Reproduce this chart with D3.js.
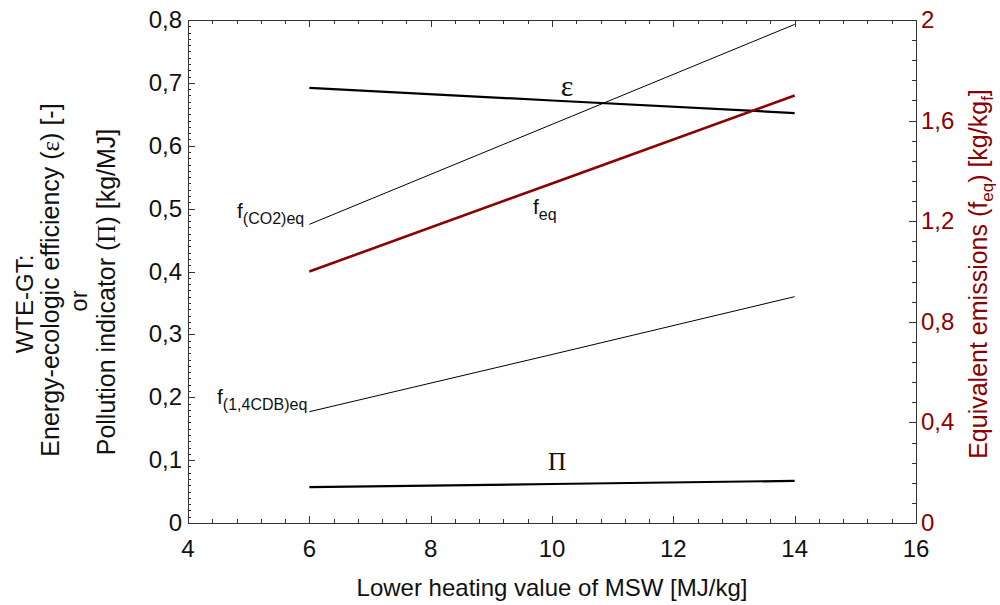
<!DOCTYPE html>
<html>
<head>
<meta charset="utf-8">
<script src="https://cdn.jsdelivr.net/npm/d3@7"></script>
<style>
  html, body { margin: 0; padding: 0; background: #fff; }
  svg { display: block; font-family: "Liberation Sans", Arial, sans-serif; }
</style>
</head>
<body>
<svg id="chart" width="1000" height="605"></svg>
<script>
// Lower heating value of MSW [MJ/kg]
const lhv = [6, 10, 14];
// Left-axis series
const epsilon = [0.692, 0.672, 0.652];      // energy-ecologic efficiency [-]
const fCO2eq = [0.475, 0.634, 0.793];       // [kg/MJ]
const fCDBeq = [0.177, 0.268, 0.360];       // [kg/MJ]
const pollutionPi = [0.057, 0.062, 0.067];  // [kg/MJ]
// Right-axis series
const feq = [1.00, 1.35, 1.70];             // [kg/kg_f]

const xTicks = [4, 6, 8, 10, 12, 14, 16];
const yLeftTicks = [0, 0.1, 0.2, 0.3, 0.4, 0.5, 0.6, 0.7, 0.8];
const yRightTicks = [0, 0.4, 0.8, 1.2, 1.6, 2];

const RED = "#8b0000";
const svg = d3.select("#chart");
const L = 188, R = 916, T = 20, B = 523;

const x = d3.scaleLinear().domain([4, 16]).range([L, R]);
const yL = d3.scaleLinear().domain([0, 0.8]).range([B, T]);
const yR = d3.scaleLinear().domain([0, 2]).range([B, T]);

const comma = v => String(+v.toFixed(2)).replace(".", ",");

// inward ticks drawn as short lines
function ticks(vals, pos, len, orient) {
  const g = svg.append("g").attr("stroke", "#333").attr("stroke-width", 1);
  vals.forEach(v => {
    const p = Math.round(pos(v)) + 0.5;
    if (orient === "bottom") g.append("line").attr("x1", p).attr("x2", p).attr("y1", B).attr("y2", B - len);
    if (orient === "top") g.append("line").attr("x1", p).attr("x2", p).attr("y1", T).attr("y2", T + len);
    if (orient === "left") g.append("line").attr("y1", p).attr("y2", p).attr("x1", L).attr("x2", L + len);
    if (orient === "right") g.append("line").attr("y1", p).attr("y2", p).attr("x1", R).attr("x2", R - len);
  });
}

const xMinor = d3.range(0, 31).map(i => 4 + i * 0.4);
const yLMinor = d3.range(0, 81).map(i => i * 0.01);
const yRMinor = d3.range(0, 26).map(i => i * 0.08);

ticks(xMinor, x, 4, "bottom");
ticks(xTicks, x, 7, "bottom");
ticks(xMinor, x, 4, "top");
ticks(xTicks, x, 7, "top");
ticks(yLMinor, yL, 3, "left");
ticks(yLeftTicks, yL, 7, "left");
ticks(yRMinor, yR, 4, "right");
ticks(yRightTicks, yR, 7, "right");

// frame
svg.append("rect").attr("x", L + 0.5).attr("y", T + 0.5)
  .attr("width", R - L).attr("height", B - T)
  .attr("fill", "none").attr("stroke", "#333").attr("stroke-width", 1);

// tick labels
svg.append("g").selectAll("text").data(xTicks).join("text")
  .attr("x", d => x(d)).attr("y", 557).attr("text-anchor", "middle")
  .attr("font-size", 24).attr("fill", "#111").text(d => d);
svg.append("g").selectAll("text").data(yLeftTicks).join("text")
  .attr("x", 182).attr("y", d => yL(d) + 8).attr("text-anchor", "end")
  .attr("font-size", 24).attr("fill", "#111").text(d => comma(d));
svg.append("g").selectAll("text").data(yRightTicks).join("text")
  .attr("x", 921).attr("y", d => yR(d) + 8).attr("text-anchor", "start")
  .attr("font-size", 24).attr("fill", RED).text(d => comma(d));

// axis titles
svg.append("text").attr("x", (L + R) / 2).attr("y", 596).attr("text-anchor", "middle")
  .attr("font-size", 24).attr("fill", "#111").text("Lower heating value of MSW [MJ/kg]");

const yt = svg.append("g").attr("fill", "#111");
function rotText(g, xPos, yPos, anchor, size) {
  return g.append("text").attr("transform", `translate(${xPos},${yPos}) rotate(-90)`)
    .attr("text-anchor", anchor).attr("font-size", size);
}
rotText(yt, 33, 304, "middle", 24).text("WTE-GT:");
const e = rotText(yt, 59, 280, "middle", 25);
e.append("tspan").text("Energy-ecologic efficiency (");
e.append("tspan").attr("font-family", "Liberation Serif, serif").text("ε");
e.append("tspan").text(") [-]");
rotText(yt, 87, 301, "middle", 24).text("or");
const p = rotText(yt, 115, 292, "middle", 25);
p.append("tspan").text("Pollution indicator (");
p.append("tspan").attr("font-family", "Liberation Serif, serif").text("Π");
p.append("tspan").text(") [kg/MJ]");

const rt = rotText(svg.append("g").attr("fill", RED), 987, 274, "middle", 25);
rt.append("tspan").text("Equivalent emissions (f");
rt.append("tspan").attr("font-size", 17).attr("dy", 6).text("eq");
rt.append("tspan").attr("dy", -6).text(") [kg/kg");
rt.append("tspan").attr("font-size", 17).attr("dy", 6).text("f");
rt.append("tspan").attr("dy", -6).text("]");

// series lines
const lineL = d3.line().x((d, i) => x(lhv[i])).y(d => yL(d));
const lineR = d3.line().x((d, i) => x(lhv[i])).y(d => yR(d));
const plot = svg.append("g").attr("fill", "none");
plot.append("path").attr("d", lineL(fCO2eq)).attr("stroke", "#000").attr("stroke-width", 1);
plot.append("path").attr("d", lineL(fCDBeq)).attr("stroke", "#000").attr("stroke-width", 1);
plot.append("path").attr("d", lineL(epsilon)).attr("stroke", "#000").attr("stroke-width", 2.2);
plot.append("path").attr("d", lineL(pollutionPi)).attr("stroke", "#000").attr("stroke-width", 2.2);
plot.append("path").attr("d", lineR(feq)).attr("stroke", RED).attr("stroke-width", 2.6);

// series labels
const lab = svg.append("g").attr("fill", "#111");
function subLabel(xPos, yPos, sub) {
  const t = lab.append("text").attr("x", xPos).attr("y", yPos).attr("font-size", 21);
  t.append("tspan").text("f");
  t.append("tspan").attr("font-size", 16).attr("dy", 6).text(sub);
}
subLabel(237, 218, "(CO2)eq");
subLabel(217, 404, "(1,4CDB)eq");
subLabel(533, 214, "eq");
lab.append("text").attr("x", 567).attr("y", 96).attr("text-anchor", "middle")
  .attr("font-family", "Liberation Serif, serif").attr("font-size", 30).text("ε");
lab.append("text").attr("x", 557).attr("y", 470).attr("text-anchor", "middle")
  .attr("font-family", "Liberation Serif, serif").attr("font-size", 25).text("Π");
</script>
</body>
</html>
